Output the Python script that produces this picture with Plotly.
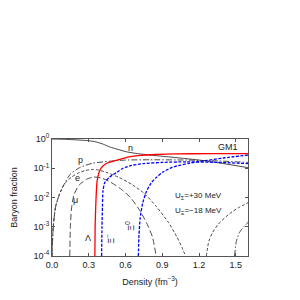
import plotly.graph_objects as go

# Data: density (fm^-3) and log10 of baryon/lepton fractions
n_x = [0.0, 0.1, 0.2, 0.3, 0.36, 0.42, 0.47, 0.55, 0.61, 0.7, 0.8, 0.95, 1.2, 1.4, 1.6]
n_log = [0.0, -0.01, -0.03, -0.06, -0.1, -0.18, -0.27, -0.37, -0.44, -0.5, -0.55, -0.61, -0.72, -0.84, -0.98]

p_x = [0.0, 0.01, 0.03, 0.06, 0.09, 0.15, 0.23, 0.33, 0.47, 0.6, 0.8, 1.1, 1.35, 1.6]
p_log = [-4.0, -3.0, -2.3, -1.9, -1.62, -1.2, -0.97, -0.83, -0.76, -0.72, -0.71, -0.72, -0.75, -0.8]

e_x = [0.0, 0.01, 0.03, 0.06, 0.09, 0.12, 0.16, 0.21, 0.27, 0.33, 0.38, 0.45, 0.55, 0.65, 0.75, 0.85, 0.95, 1.02, 1.06, 1.09]
e_log = [-4.0, -3.0, -2.3, -1.9, -1.62, -1.45, -1.3, -1.17, -1.08, -1.04, -1.06, -1.15, -1.32, -1.55, -1.85, -2.3, -2.85, -3.35, -3.7, -4.0]

e2_x = [1.26, 1.28, 1.31, 1.36, 1.45, 1.53, 1.6]
e2_log = [-4.0, -3.5, -3.2, -2.9, -2.55, -2.33, -2.18]

mu_x = [0.145, 0.15, 0.16, 0.18, 0.22, 0.28, 0.34, 0.4, 0.48, 0.56, 0.64, 0.71, 0.77, 0.82, 0.85]
mu_log = [-4.0, -3.0, -2.35, -1.9, -1.58, -1.38, -1.3, -1.33, -1.48, -1.7, -2.0, -2.4, -2.85, -3.35, -4.0]

mu2_x = [1.49, 1.505, 1.53, 1.57, 1.6]
mu2_log = [-4.0, -3.5, -3.2, -2.98, -2.85]

lam_x = [0.35, 0.352, 0.357, 0.362, 0.368, 0.38, 0.39, 0.41, 0.447, 0.5, 0.55, 0.62, 0.72, 0.85, 1.0, 1.3, 1.6]
lam_log = [-4.0, -3.0, -2.3, -1.8, -1.45, -1.2, -1.08, -0.95, -0.83, -0.76, -0.7, -0.62, -0.56, -0.53, -0.51, -0.5, -0.5]

xim_x = [0.405, 0.408, 0.412, 0.416, 0.43, 0.47, 0.53, 0.58, 0.65, 0.75, 0.9, 1.1, 1.35, 1.6]
xim_log = [-4.0, -3.0, -2.3, -1.78, -1.5, -1.3, -1.14, -1.0, -0.9, -0.84, -0.8, -0.78, -0.8, -0.84]

xi0_x = [0.705, 0.71, 0.72, 0.74, 0.77, 0.81, 0.85, 0.91, 0.98, 1.05, 1.12, 1.25, 1.4, 1.6]
xi0_log = [-4.0, -3.3, -2.7, -2.2, -1.8, -1.5, -1.32, -1.12, -0.97, -0.89, -0.83, -0.74, -0.65, -0.55]

y_tickvals = [1e-4, 1e-3, 1e-2, 1e-1, 1]
y_ticktext = ["10<sup>-4</sup>", "10<sup>-3</sup>", "10<sup>-2</sup>", "10<sup>-1</sup>", "10<sup>0</sup>"]
x_tickvals = [0.0, 0.3, 0.6, 0.9, 1.2, 1.5]
x_ticktext = ["0.0", "0.3", "0.6", "0.9", "1.2", "1.5"]


def lin(vals):
    return [10 ** v for v in vals]


fig = go.Figure()
dark = "#333333"
series = [
    (n_x, n_log, dark, 0.9, "solid"),
    (p_x, p_log, dark, 0.9, "6px,2px,1.5px,2px"),
    (e_x, e_log, dark, 0.9, "3px,2px"),
    (e2_x, e2_log, dark, 0.9, "3px,2px"),
    (mu_x, mu_log, dark, 0.9, "6px,3px"),
    (mu2_x, mu2_log, dark, 0.9, "6px,2px,1.5px,2px"),
    (lam_x, lam_log, "#ff0000", 1.3, "solid"),
    (xim_x, xim_log, "#0000ff", 1.3, "3px,1.5px"),
    (xi0_x, xi0_log, "#0000ff", 1.3, "3px,1.5px"),
]
for xs, ys, col, w, dash in series:
    fig.add_trace(go.Scatter(x=xs, y=lin(ys), mode="lines",
                             line=dict(color=col, width=w, dash=dash, shape="spline", smoothing=0.6),
                             showlegend=False, hoverinfo="skip"))

font = dict(family="Liberation Sans, Arial, sans-serif", size=9, color="#222")
ann = [
    dict(x=0.64, y=-0.3, text="n"),
    dict(x=0.23, y=-0.72, text="p"),
    dict(x=0.21, y=-1.32, text="e"),
    dict(x=0.19, y=-2.08, text="μ"),
    dict(x=0.29, y=-3.4, text="Λ"),
    dict(x=1.44, y=-0.29, text="GM1"),
]
for a in ann:
    fig.add_annotation(x=a["x"], y=a["y"], text=a["text"], showarrow=False, font=font,
                       xref="x", yref="y")
fig.add_annotation(x=0.475, y=-3.4, text="Ξ<sup>−</sup>", textangle=-90, showarrow=False, font=font)
fig.add_annotation(x=0.64, y=-2.95, text="Ξ<sup>0</sup>", textangle=-90, showarrow=False, font=font)
fig.add_annotation(x=1.195, y=-1.95, text="U<sub>Σ</sub>=+30 MeV", showarrow=False, font=dict(font, size=8))
fig.add_annotation(x=1.195, y=-2.45, text="U<sub>Ξ</sub>=−18 MeV", showarrow=False, font=dict(font, size=8))

axis_common = dict(showline=True, linecolor="#555", linewidth=1, mirror="ticks", ticks="inside",
                   ticklen=3, tickcolor="#555", showgrid=False, zeroline=False, automargin=False,
                   tickfont=dict(family="Liberation Sans, Arial, sans-serif", size=9, color="#222"))
fig.update_xaxes(range=[0, 1.6], tickvals=x_tickvals, ticktext=x_ticktext,
                 title=dict(text="Density (fm<sup>−3</sup>)", standoff=9,
                            font=dict(family="Liberation Sans, Arial, sans-serif", size=9, color="#222")),
                 **axis_common)
fig.update_yaxes(type="log", range=[-4, 0], tickvals=y_tickvals, ticktext=y_ticktext,
                 title=dict(text="Baryon fraction", standoff=14,
                            font=dict(family="Liberation Sans, Arial, sans-serif", size=9, color="#222")),
                 **axis_common)
fig.update_layout(width=300, height=300, margin=dict(l=44, r=60, t=131, b=52),
                  plot_bgcolor="white", paper_bgcolor="white")
fig.write_html("out.html")
